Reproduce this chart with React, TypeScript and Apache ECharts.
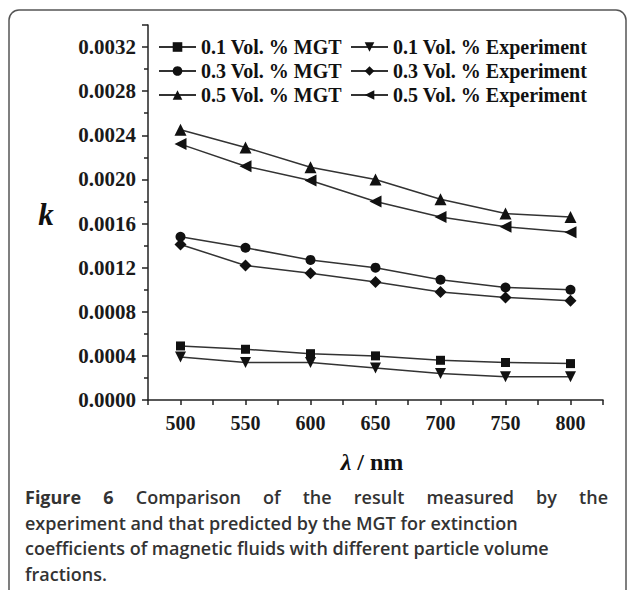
import React, { useEffect, useRef } from "react";
import * as echarts from "echarts";

const wavelengths = [500, 550, 600, 650, 700, 750, 800];
const mgt01 = [0.00049, 0.00046, 0.00042, 0.0004, 0.00036, 0.00034, 0.00033];
const exp01 = [0.00039, 0.00034, 0.00034, 0.00029, 0.00024, 0.00021, 0.00021];
const mgt03 = [0.00148, 0.00138, 0.00127, 0.0012, 0.00109, 0.00102, 0.001];
const exp03 = [0.00141, 0.00122, 0.00115, 0.00107, 0.00098, 0.00093, 0.0009];
const mgt05 = [0.00245, 0.00229, 0.00211, 0.002, 0.00182, 0.00169, 0.00166];
const exp05 = [0.00232, 0.00212, 0.00199, 0.0018, 0.00166, 0.00157, 0.00152];

const seriesNames = [
  "0.1 Vol. % MGT",
  "0.1 Vol. % Experiment",
  "0.3 Vol. % MGT",
  "0.3 Vol. % Experiment",
  "0.5 Vol. % MGT",
  "0.5 Vol. % Experiment",
];
const seriesValues = [mgt01, exp01, mgt03, exp03, mgt05, exp05];
const symbols = ["rect", "triangle", "circle", "diamond", "triangle", "triangle"];
const symbolRotates = [0, 180, 0, 0, 0, 90];
const symbolSizes = [9, 11, 10, 12, 12, 12];

const captionLine1 = ["Figure", "6", "Comparison", "of", "the", "result", "measured", "by", "the"];
const captionRest = [
  "experiment and that predicted by the MGT for extinction",
  "coefficients of magnetic fluids with different particle volume",
  "fractions.",
];

const SERIF = "'Liberation Serif', 'Times New Roman', serif";
const SANS = "'Open Sans', 'Noto Sans', sans-serif";

function measure(text: string, font: string): number {
  const c = document.createElement("canvas");
  const ctx = c.getContext("2d");
  if (!ctx) return text.length * 8;
  ctx.font = font;
  return ctx.measureText(text).width;
}

export default function App() {
  const ref = useRef<HTMLDivElement>(null);
  useEffect(() => {
    if (!ref.current) return;
    const chart = echarts.init(ref.current, undefined, { renderer: "svg" });

    const capSize = 18;
    const x0 = 25;
    const x1 = 608;
    const lineY0 = 497;
    const lineStep = 25.5;
    const widths = captionLine1.map((w, i) =>
      measure(w, `${i < 2 ? 700 : 600} ${capSize}px 'Open Sans'`)
    );
    const total = widths.reduce((a, b) => a + b, 0);
    const gap = (x1 - x0 - total) / (captionLine1.length - 1);
    let cx = x0;
    const line1Els: any[] = captionLine1.map((w, i) => {
      const el = {
        type: "text",
        x: cx,
        y: lineY0,
        style: {
          text: w,
          font: `${i < 2 ? 700 : 600} ${capSize}px ${SANS}`,
          fill: "#333",
          textAlign: "left",
          textVerticalAlign: "middle",
        },
      };
      cx += widths[i] + gap;
      return el;
    });
    const restEls: any[] = captionRest.map((t, i) => ({
      type: "text",
      x: x0,
      y: lineY0 + (i + 1) * lineStep,
      style: {
        text: t,
        font: `600 ${capSize}px ${SANS}`,
        fill: "#333",
        textAlign: "left",
        textVerticalAlign: "middle",
      },
    }));

    const legendCommon = {
      orient: "vertical",
      top: 37,
      itemWidth: 37,
      itemHeight: 12,
      itemGap: 4,
      padding: 0,
      textStyle: {
        fontFamily: SERIF,
        fontWeight: "bold",
        fontSize: 20,
        lineHeight: 20,
        color: "#111",
      },
    };

    chart.setOption({
      animation: false,
      backgroundColor: "#fff",
      grid: { left: 148, right: 24, top: 25, bottom: 190, containLabel: false },
      legend: [
        { ...legendCommon, left: 158, data: [seriesNames[0], seriesNames[2], seriesNames[4]] },
        { ...legendCommon, left: 350, data: [seriesNames[1], seriesNames[3], seriesNames[5]] },
      ],
      xAxis: {
        type: "value",
        min: 475,
        max: 825,
        interval: 25,
        axisLine: { show: true, lineStyle: { color: "#222", width: 1.5 } },
        axisTick: { show: true, length: 5, lineStyle: { color: "#222", width: 1.5 } },
        splitLine: { show: false },
        axisLabel: {
          margin: 13,
          fontFamily: SERIF,
          fontWeight: "bold",
          fontSize: 20,
          color: "#1a1a1a",
          formatter: (v: number) => (v % 50 === 0 ? String(v) : ""),
        },
      },
      yAxis: {
        type: "value",
        min: 0,
        max: 0.0034,
        interval: 0.0004,
        axisLine: { show: true, lineStyle: { color: "#222", width: 1.5 } },
        axisTick: { show: true, length: 6, lineStyle: { color: "#222", width: 1.5 } },
        minorTick: { show: true, splitNumber: 2, length: 4, lineStyle: { color: "#222", width: 1.5 } },
        splitLine: { show: false },
        axisLabel: {
          margin: 12,
          showMaxLabel: false,
          fontFamily: SERIF,
          fontWeight: "bold",
          fontSize: 21,
          color: "#1a1a1a",
          formatter: (v: number) => v.toFixed(4),
        },
      },
      series: seriesNames.map((name, i) => ({
        name,
        type: "line",
        data: wavelengths.map((w, j) => [w, seriesValues[i][j]]),
        symbol: symbols[i],
        symbolRotate: symbolRotates[i],
        symbolSize: symbolSizes[i],
        showAllSymbol: true,
        lineStyle: { color: "#333", width: 1.5 },
        itemStyle: { color: "#111", borderWidth: 0 },
      })),
      graphic: [
        {
          type: "rect",
          shape: { x: 9, y: 10, width: 617, height: 700, r: 10 },
          style: { fill: "none", stroke: "#555", lineWidth: 1.5 },
          silent: true,
        },
        {
          type: "text",
          x: 46,
          y: 214,
          style: {
            text: "k",
            font: `italic bold 31px ${SERIF}`,
            fill: "#111",
            textAlign: "center",
            textVerticalAlign: "middle",
          },
        },
        {
          type: "text",
          x: 372,
          y: 462,
          style: {
            text: "{l|λ}{n| / nm}",
            textAlign: "center",
            textVerticalAlign: "middle",
            fill: "#111",
            rich: {
              l: { font: `italic bold 24px ${SERIF}`, fill: "#111" },
              n: { font: `bold 24px ${SERIF}`, fill: "#111" },
            },
          },
        },
        ...line1Els,
        ...restEls,
      ],
    });
    return () => chart.dispose();
  }, []);
  return (
    <div
      ref={ref}
      style={{ position: "fixed", left: 0, top: 0, width: 627, height: 590, background: "#fff" }}
    />
  );
}
